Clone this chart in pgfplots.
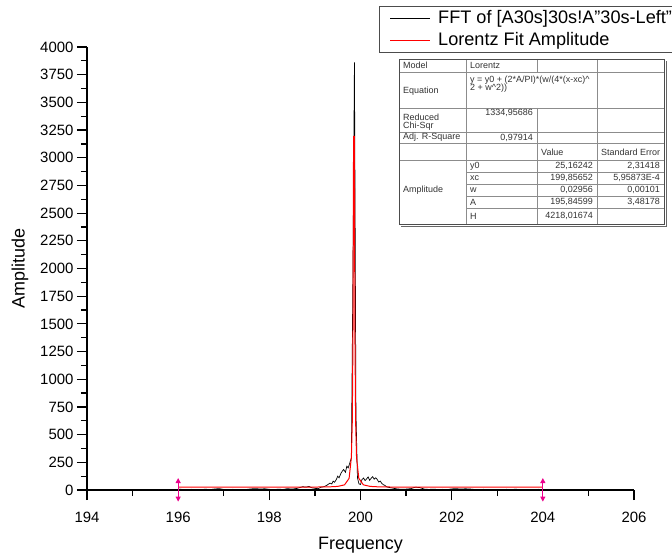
\documentclass[border=0pt]{standalone}
\usepackage{fontspec}
\setmainfont{Liberation Sans}
\usepackage{pgfplots}
\pgfplotsset{compat=1.18}
\usetikzlibrary{arrows.meta}
\definecolor{fitred}{RGB}{255,0,0}
\begin{document}
\begin{tikzpicture}
\useasboundingbox (-87bp,-66bp) rectangle (585bp,490bp);
\clip (-87bp,-66bp) rectangle (585bp,490bp);
\begin{axis}[
  at={(0,0)}, anchor=south west,
  width=547bp, height=443bp, scale only axis,
  xmin=194, xmax=206, ymin=0, ymax=4000,
  axis lines*=left, axis line style={line width=1.2pt},
  clip=false,
  xtick={194,196,...,206}, minor x tick num=1,
  ytick={0,250,...,4000}, minor y tick num=1,
  tick align=outside, major tick length=10bp, minor tick length=6bp,
  tick style={line width=1.2pt, black},
  ticklabel style={font=\fontsize{15}{17}\selectfont},
  /pgf/number format/assume math mode=true,
  yticklabel style={/pgf/number format/1000 sep={}},
  xticklabel style={/pgf/number format/1000 sep={}, yshift=-9bp},
  xlabel={Frequency}, ylabel={Amplitude},
  label style={font=\fontsize{18}{20}\selectfont},
  xlabel style={at={(axis description cs:0.5,-0.1332)}, anchor=base},
  ylabel style={at={(axis description cs:-0.1225,0.5)}, anchor=center},
]
\addplot[black, line width=0.7pt] coordinates {
(196.0,8) (196.1,5) (196.2,3) (196.3,6) (196.4,2) (196.5,4) (196.6,7) (196.7,3) (196.8,9) (196.9,12)
(197.0,5) (197.1,3) (197.2,6) (197.3,4) (197.4,2) (197.5,5) (197.6,10) (197.7,12) (197.8,9) (197.9,11)
(198.0,6) (198.1,4) (198.2,7) (198.3,5) (198.4,12) (198.5,8) (198.6,14) (198.67,22) (198.73,30) (198.8,26)
(198.87,32) (198.93,20) (199.0,15) (199.07,12) (199.13,25) (199.2,30) (199.27,45) (199.33,62) (199.37,55) (199.4,80)
(199.43,70) (199.47,95) (199.5,125) (199.53,110) (199.57,150) (199.6,170) (199.63,185) (199.67,160) (199.7,215) (199.73,200)
(199.77,250) (199.8,290) (199.833,1900) (199.867,3860) (199.9,700) (199.933,110) (199.967,55) (200.0,50) (200.033,95) (200.067,108)
(200.1,85) (200.133,100) (200.167,118) (200.2,88) (200.233,105) (200.267,120) (200.3,98) (200.333,110) (200.367,95) (200.4,72)
(200.433,80) (200.467,60) (200.5,48) (200.533,42) (200.567,30) (200.6,25) (200.67,20) (200.73,15) (200.8,10) (200.9,6)
(201.0,8) (201.1,12) (201.2,25) (201.3,22) (201.4,8) (201.5,5) (201.6,8) (201.7,4) (201.8,6) (201.9,3)
(202.0,10) (202.1,12) (202.2,8) (202.3,11) (202.4,9) (202.5,5) (202.6,3) (202.7,6) (202.8,4) (202.9,2)
(203.0,5) (203.1,3) (203.2,6) (203.3,4) (203.4,7) (203.5,3) (203.6,5) (203.7,2) (203.8,4) (203.9,6) (204.0,3)
};
\addplot[fitred, line width=1pt] coordinates {
(196.0,25.2) (197.0,25.3) (198.0,25.4) (198.8,25.9) (199.3,28.1) (199.5,32.4) (199.65,46.7) (199.75,105)
(199.8,295) (199.82,619) (199.835,1379) (199.848,3194) (199.865,3194) (199.878,1379) (199.893,619)
(199.913,295) (199.963,105) (200.063,46.7) (200.213,32.4) (200.413,28.1) (200.9,26.0) (202.0,25.4)
(203.0,25.3) (204.0,25.2)
};
\addplot[magenta, line width=1pt, {Triangle[width=5bp,length=5bp]}-{Triangle[width=5bp,length=5bp]}] coordinates {(196,-105) (196,108)};
\addplot[magenta, line width=1pt, {Triangle[width=5bp,length=5bp]}-{Triangle[width=5bp,length=5bp]}] coordinates {(204,-105) (204,108)};
\end{axis}
% legend (frame runs past the right edge, as in the original)
\draw[black!70, line width=1pt] (292bp,437bp) rectangle (600bp,483bp);
\draw[black, line width=1pt] (303bp,471bp) -- (343bp,471bp);
\draw[fitred, line width=1pt] (303bp,449bp) -- (343bp,449bp);
\node[anchor=west, inner sep=0pt, font=\fontsize{18.2}{21}\selectfont] at (351bp,471bp) {FFT of [A30s]30s!A"30s-Left"};
\node[anchor=west, inner sep=0pt, font=\fontsize{18.2}{21}\selectfont] at (351bp,449bp) {Lorentz Fit Amplitude};
% inset result table
\begin{scope}[font=\fontsize{9}{10}\selectfont, text=black!80]
\fill[white] (312bp,266bp) rectangle (577bp,431bp);
\draw[black!45, line width=0.5pt] (312bp,418bp) -- (577bp,418bp);
\draw[black!45, line width=0.5pt] (312bp,382bp) -- (577bp,382bp);
\draw[black!45, line width=0.5pt] (312bp,358bp) -- (577bp,358bp);
\draw[black!45, line width=0.5pt] (312bp,347bp) -- (577bp,347bp);
\draw[black!45, line width=0.5pt] (312bp,330bp) -- (577bp,330bp);
\foreach \yy in {318,306,294,282} {\draw[black!45, line width=0.5pt] (379bp,\yy bp) -- (577bp,\yy bp);}
\draw[black!45, line width=0.5pt] (379bp,431bp) -- (379bp,266bp);
\draw[black!45, line width=0.5pt] (450bp,431bp) -- (450bp,418bp);
\draw[black!45, line width=0.5pt] (450bp,382bp) -- (450bp,266bp);
\draw[black!45, line width=0.5pt] (510bp,431bp) -- (510bp,266bp);
\draw[black!70, line width=0.8pt] (312bp,266bp) rectangle (577bp,431bp);
\draw[black!60, line width=0.8pt] (314bp,264bp) -- (579bp,264bp) -- (579bp,429bp);
\node[anchor=west, inner sep=0pt] at (316bp,424.5bp) {Model};
\node[anchor=west, inner sep=0pt] at (383bp,424.5bp) {Lorentz};
\node[anchor=west, inner sep=0pt] at (316bp,399bp) {Equation};
\node[anchor=west, inner sep=0pt] at (383bp,410bp) {y = y0 + (2*A/PI)*(w/(4*(x-xc)\^{}};
\node[anchor=west, inner sep=0pt] at (383bp,402bp) {2 + w\^{}2))};
\node[anchor=west, inner sep=0pt] at (316bp,373bp) {Reduced};
\node[anchor=west, inner sep=0pt] at (316bp,364bp) {Chi-Sqr};
\node[anchor=east, inner sep=0pt] at (446bp,377bp) {1334,95686};
\node[anchor=west, inner sep=0pt] at (316bp,352.5bp) {Adj. R-Square};
\node[anchor=east, inner sep=0pt] at (446bp,352.5bp) {0,97914};
\node[anchor=west, inner sep=0pt] at (454bp,338bp) {Value};
\node[anchor=west, inner sep=0pt] at (514bp,338bp) {Standard Error};
\node[anchor=west, inner sep=0pt] at (316bp,300bp) {Amplitude};
\node[anchor=west, inner sep=0pt] at (383bp,324bp) {y0};
\node[anchor=west, inner sep=0pt] at (383bp,312bp) {xc};
\node[anchor=west, inner sep=0pt] at (383bp,300bp) {w};
\node[anchor=west, inner sep=0pt] at (383bp,288bp) {A};
\node[anchor=west, inner sep=0pt] at (383bp,274bp) {H};
\node[anchor=east, inner sep=0pt] at (506bp,324bp) {25,16242};
\node[anchor=east, inner sep=0pt] at (506bp,312bp) {199,85652};
\node[anchor=east, inner sep=0pt] at (506bp,300bp) {0,02956};
\node[anchor=east, inner sep=0pt] at (506bp,288bp) {195,84599};
\node[anchor=east, inner sep=0pt] at (506bp,274bp) {4218,01674};
\node[anchor=east, inner sep=0pt] at (573bp,324bp) {2,31418};
\node[anchor=east, inner sep=0pt] at (573bp,312bp) {5,95873E-4};
\node[anchor=east, inner sep=0pt] at (573bp,300bp) {0,00101};
\node[anchor=east, inner sep=0pt] at (573bp,288bp) {3,48178};
\end{scope}
\end{tikzpicture}
\end{document}
